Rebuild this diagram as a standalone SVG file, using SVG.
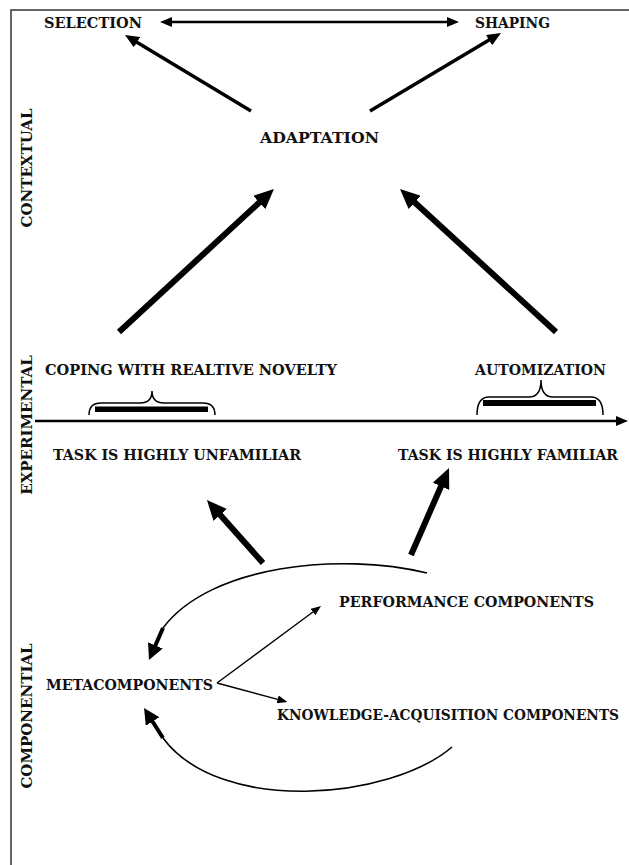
<svg xmlns="http://www.w3.org/2000/svg" width="629" height="865" viewBox="0 0 629 865">
<style>
  text { font-family: "DejaVu Serif", "Liberation Serif", serif; font-weight: bold; font-size: 14.5px; fill: #111; }
  .edge { font-size: 14px; }
  .vlabel { font-size: 15px; text-anchor: middle; }
  .thick { stroke: #000; stroke-width: 6; fill: none; }
  .med { stroke: #000; stroke-width: 3.5; fill: none; }
  .dbl { stroke: #000; stroke-width: 2.5; fill: none; }
  .thin { stroke: #000; stroke-width: 1.4; fill: none; }
  .curve { stroke: #000; stroke-width: 1.6; fill: none; }
  .cshaft { stroke: #000; stroke-width: 4; fill: none; }
  .brace { stroke: #000; stroke-width: 1.5; fill: none; }
</style>
<defs>
  <marker id="ah-thick" markerUnits="userSpaceOnUse" viewBox="0 0 20 18" markerWidth="20" markerHeight="18" refX="4" refY="9" orient="auto">
    <path d="M0,0 L20,9 L0,18 z" fill="#000"/>
  </marker>
  <marker id="ah-med" markerUnits="userSpaceOnUse" viewBox="0 0 14 12" markerWidth="14" markerHeight="12" refX="3" refY="6" orient="auto">
    <path d="M0,0 L14,6 L0,12 z" fill="#000"/>
  </marker>
  <marker id="ah-dbl" markerUnits="userSpaceOnUse" viewBox="0 0 12 10" markerWidth="12" markerHeight="10" refX="3" refY="5" orient="auto-start-reverse">
    <path d="M0,0 L12,5 L0,10 z" fill="#000"/>
  </marker>
  <marker id="ah-thin" markerUnits="userSpaceOnUse" viewBox="0 0 10 8" markerWidth="10" markerHeight="8" refX="2" refY="4" orient="auto">
    <path d="M0,0 L10,4 L0,8 z" fill="#000"/>
  </marker>
  <marker id="ah-curve" markerUnits="userSpaceOnUse" viewBox="0 0 16 16" markerWidth="16" markerHeight="16" refX="3" refY="8" orient="auto">
    <path d="M0,0 L16,8 L0,16 z" fill="#000"/>
  </marker>
</defs>

<g id="frame">
  <path d="M11,865 L11,10 L629,10" stroke="#333" stroke-width="1.5" fill="none"/>
</g>

<g id="labels-vertical">
  <text class="vlabel" transform="translate(32,168) rotate(-90)">CONTEXTUAL</text>
  <text class="vlabel" transform="translate(32,425) rotate(-90)">EXPERIMENTAL</text>
  <text class="vlabel" transform="translate(32,716) rotate(-90)">COMPONENTIAL</text>
</g>

<g id="selection"><text x="44" y="28" textLength="98" lengthAdjust="spacingAndGlyphs">SELECTION</text></g>
<g id="shaping"><text x="475" y="28" textLength="75" lengthAdjust="spacingAndGlyphs">SHAPING</text></g>
<g id="adaptation"><text x="260" y="143" textLength="119" lengthAdjust="spacingAndGlyphs">ADAPTATION</text></g>
<g id="coping"><text x="45" y="375" textLength="292" lengthAdjust="spacingAndGlyphs">COPING WITH REALTIVE NOVELTY</text></g>
<g id="automization"><text x="475" y="375" textLength="131" lengthAdjust="spacingAndGlyphs">AUTOMIZATION</text></g>
<g id="unfamiliar"><text x="53" y="460" textLength="248" lengthAdjust="spacingAndGlyphs">TASK IS HIGHLY UNFAMILIAR</text></g>
<g id="familiar"><text class="edge" x="398" y="460" textLength="220" lengthAdjust="spacingAndGlyphs">TASK IS HIGHLY FAMILIAR</text></g>
<g id="performance"><text x="339" y="607" textLength="255" lengthAdjust="spacingAndGlyphs">PERFORMANCE COMPONENTS</text></g>
<g id="metacomponents"><text x="46" y="690" textLength="167" lengthAdjust="spacingAndGlyphs">METACOMPONENTS</text></g>
<g id="knowledge"><text class="edge" x="277" y="720" textLength="342" lengthAdjust="spacingAndGlyphs">KNOWLEDGE-ACQUISITION COMPONENTS</text></g>

<g id="braces">
  <path class="brace" d="M89,415 Q89,403 101,403 L140,403 Q152,403 152,391 Q152,403 164,403 L203,403 Q215,403 215,415"/>
  <rect x="95" y="406.5" width="113" height="5.5" fill="#000"/>
  <path class="brace" d="M477,415 Q477,397 489,397 L529,397 Q541,397 541,380 Q541,397 553,397 L591,397 Q603,397 603,415"/>
  <rect x="483" y="400" width="113" height="6" fill="#000"/>
</g>

<g id="connectors">
  <line class="dbl" x1="169" y1="22" x2="450" y2="22" marker-start="url(#ah-dbl)" marker-end="url(#ah-dbl)"/>
  <line class="med" x1="251" y1="111" x2="134.4" y2="40.7" marker-end="url(#ah-med)"/>
  <line class="med" x1="370" y1="111" x2="491.6" y2="38.6" marker-end="url(#ah-med)"/>
  <line class="thick" x1="119" y1="332" x2="262.2" y2="199.8" marker-end="url(#ah-thick)"/>
  <line class="thick" x1="556" y1="332" x2="411.8" y2="199.8" marker-end="url(#ah-thick)"/>
  <line class="dbl" x1="35" y1="421" x2="619" y2="421" marker-end="url(#ah-dbl)"/>
  <line class="thick" x1="263" y1="563" x2="217.6" y2="512" marker-end="url(#ah-thick)"/>
  <line class="thick" x1="411" y1="555" x2="442.6" y2="482.7" marker-end="url(#ah-thick)"/>
  <line class="thin" x1="217" y1="683" x2="314.6" y2="610.8" marker-end="url(#ah-thin)"/>
  <line class="thin" x1="217" y1="683" x2="279.6" y2="699.9" marker-end="url(#ah-thin)"/>
  <path class="curve" d="M427,573 C340,552 210,565 163,628"/>
  <line class="cshaft" x1="163" y1="628" x2="154.2" y2="648.1" marker-end="url(#ah-curve)"/>
  <path class="curve" d="M452,747 C390,800 220,815 163,738"/>
  <line class="cshaft" x1="163" y1="738" x2="151" y2="719" marker-end="url(#ah-curve)"/>
</g>
</svg>
